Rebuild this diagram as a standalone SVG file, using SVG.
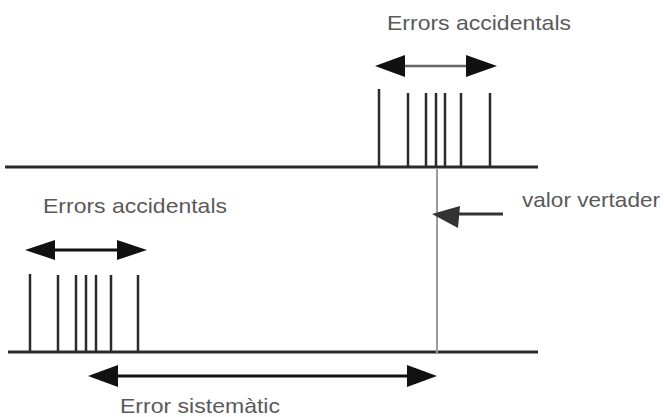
<svg xmlns="http://www.w3.org/2000/svg" width="664" height="417" viewBox="0 0 664 417">
<style>
.t{font-family:"Liberation Sans",Arial,sans-serif;font-size:21px;fill:#5a5a5a}
.base{stroke:#2a2a2a;stroke-width:3;fill:none}
.tick{stroke:#2a2a2a;stroke-width:2.5;fill:none}
.shaft{stroke:#111;stroke-width:3;fill:none}
.head{fill:#111}
</style>
<rect width="664" height="417" fill="#fff"/>
<g id="top-axis">
<line class="base" x1="5" y1="167" x2="538" y2="167"/>
<line class="tick" x1="379" y1="89" x2="379" y2="167"/>
<line class="tick" x1="408" y1="93" x2="408" y2="167"/>
<line class="tick" x1="426" y1="93" x2="426" y2="167"/>
<line class="tick" x1="436" y1="93" x2="436" y2="167"/>
<line class="tick" x1="445" y1="93" x2="445" y2="167"/>
<line class="tick" x1="461" y1="93" x2="461" y2="167"/>
<line class="tick" x1="490" y1="93" x2="490" y2="167"/>
</g>
<g id="bottom-axis">
<line class="base" x1="8" y1="352" x2="538" y2="352"/>
<line class="tick" x1="30" y1="274" x2="30" y2="352"/>
<line class="tick" x1="58" y1="275" x2="58" y2="352"/>
<line class="tick" x1="76" y1="275" x2="76" y2="352"/>
<line class="tick" x1="86" y1="275" x2="86" y2="352"/>
<line class="tick" x1="96" y1="275" x2="96" y2="352"/>
<line class="tick" x1="111" y1="275" x2="111" y2="352"/>
<line class="tick" x1="138" y1="275" x2="138" y2="352"/>
</g>
<g id="true-value-line">
<line x1="437" y1="168" x2="437" y2="353" stroke="#9a9a9a" stroke-width="2"/>
</g>
<g id="connectors">
<g id="arrow-top">
<line x1="400" y1="66" x2="470" y2="66" stroke="#666" stroke-width="2.5"/>
<polygon class="head" points="375,66 405,55 405,77"/>
<polygon class="head" points="497,66 466,55 466,77"/>
</g>
<g id="arrow-bottom-acc">
<line class="shaft" x1="50" y1="250" x2="122" y2="250"/>
<polygon class="head" points="25,250 55,240 55,260"/>
<polygon class="head" points="147,250 117,240 117,260"/>
</g>
<g id="arrow-sistematic">
<line class="shaft" x1="112" y1="376" x2="412" y2="376"/>
<polygon class="head" points="88,376 118,365 118,387"/>
<polygon class="head" points="437,376 407,365 407,387"/>
</g>
<g id="arrow-valor">
<line x1="455" y1="214" x2="503" y2="214" stroke="#333" stroke-width="3"/>
<polygon fill="#333" points="432,214 460,206 458,228"/>
</g>
</g>
<g id="labels">
<text class="t" x="387" y="30" textLength="184" lengthAdjust="spacingAndGlyphs">Errors accidentals</text>
<text class="t" x="43" y="213" textLength="184" lengthAdjust="spacingAndGlyphs">Errors accidentals</text>
<text class="t" x="522" y="207" textLength="138" lengthAdjust="spacingAndGlyphs">valor vertader</text>
<text class="t" x="120" y="413" textLength="160" lengthAdjust="spacingAndGlyphs">Error sistemàtic</text>
</g>
</svg>
